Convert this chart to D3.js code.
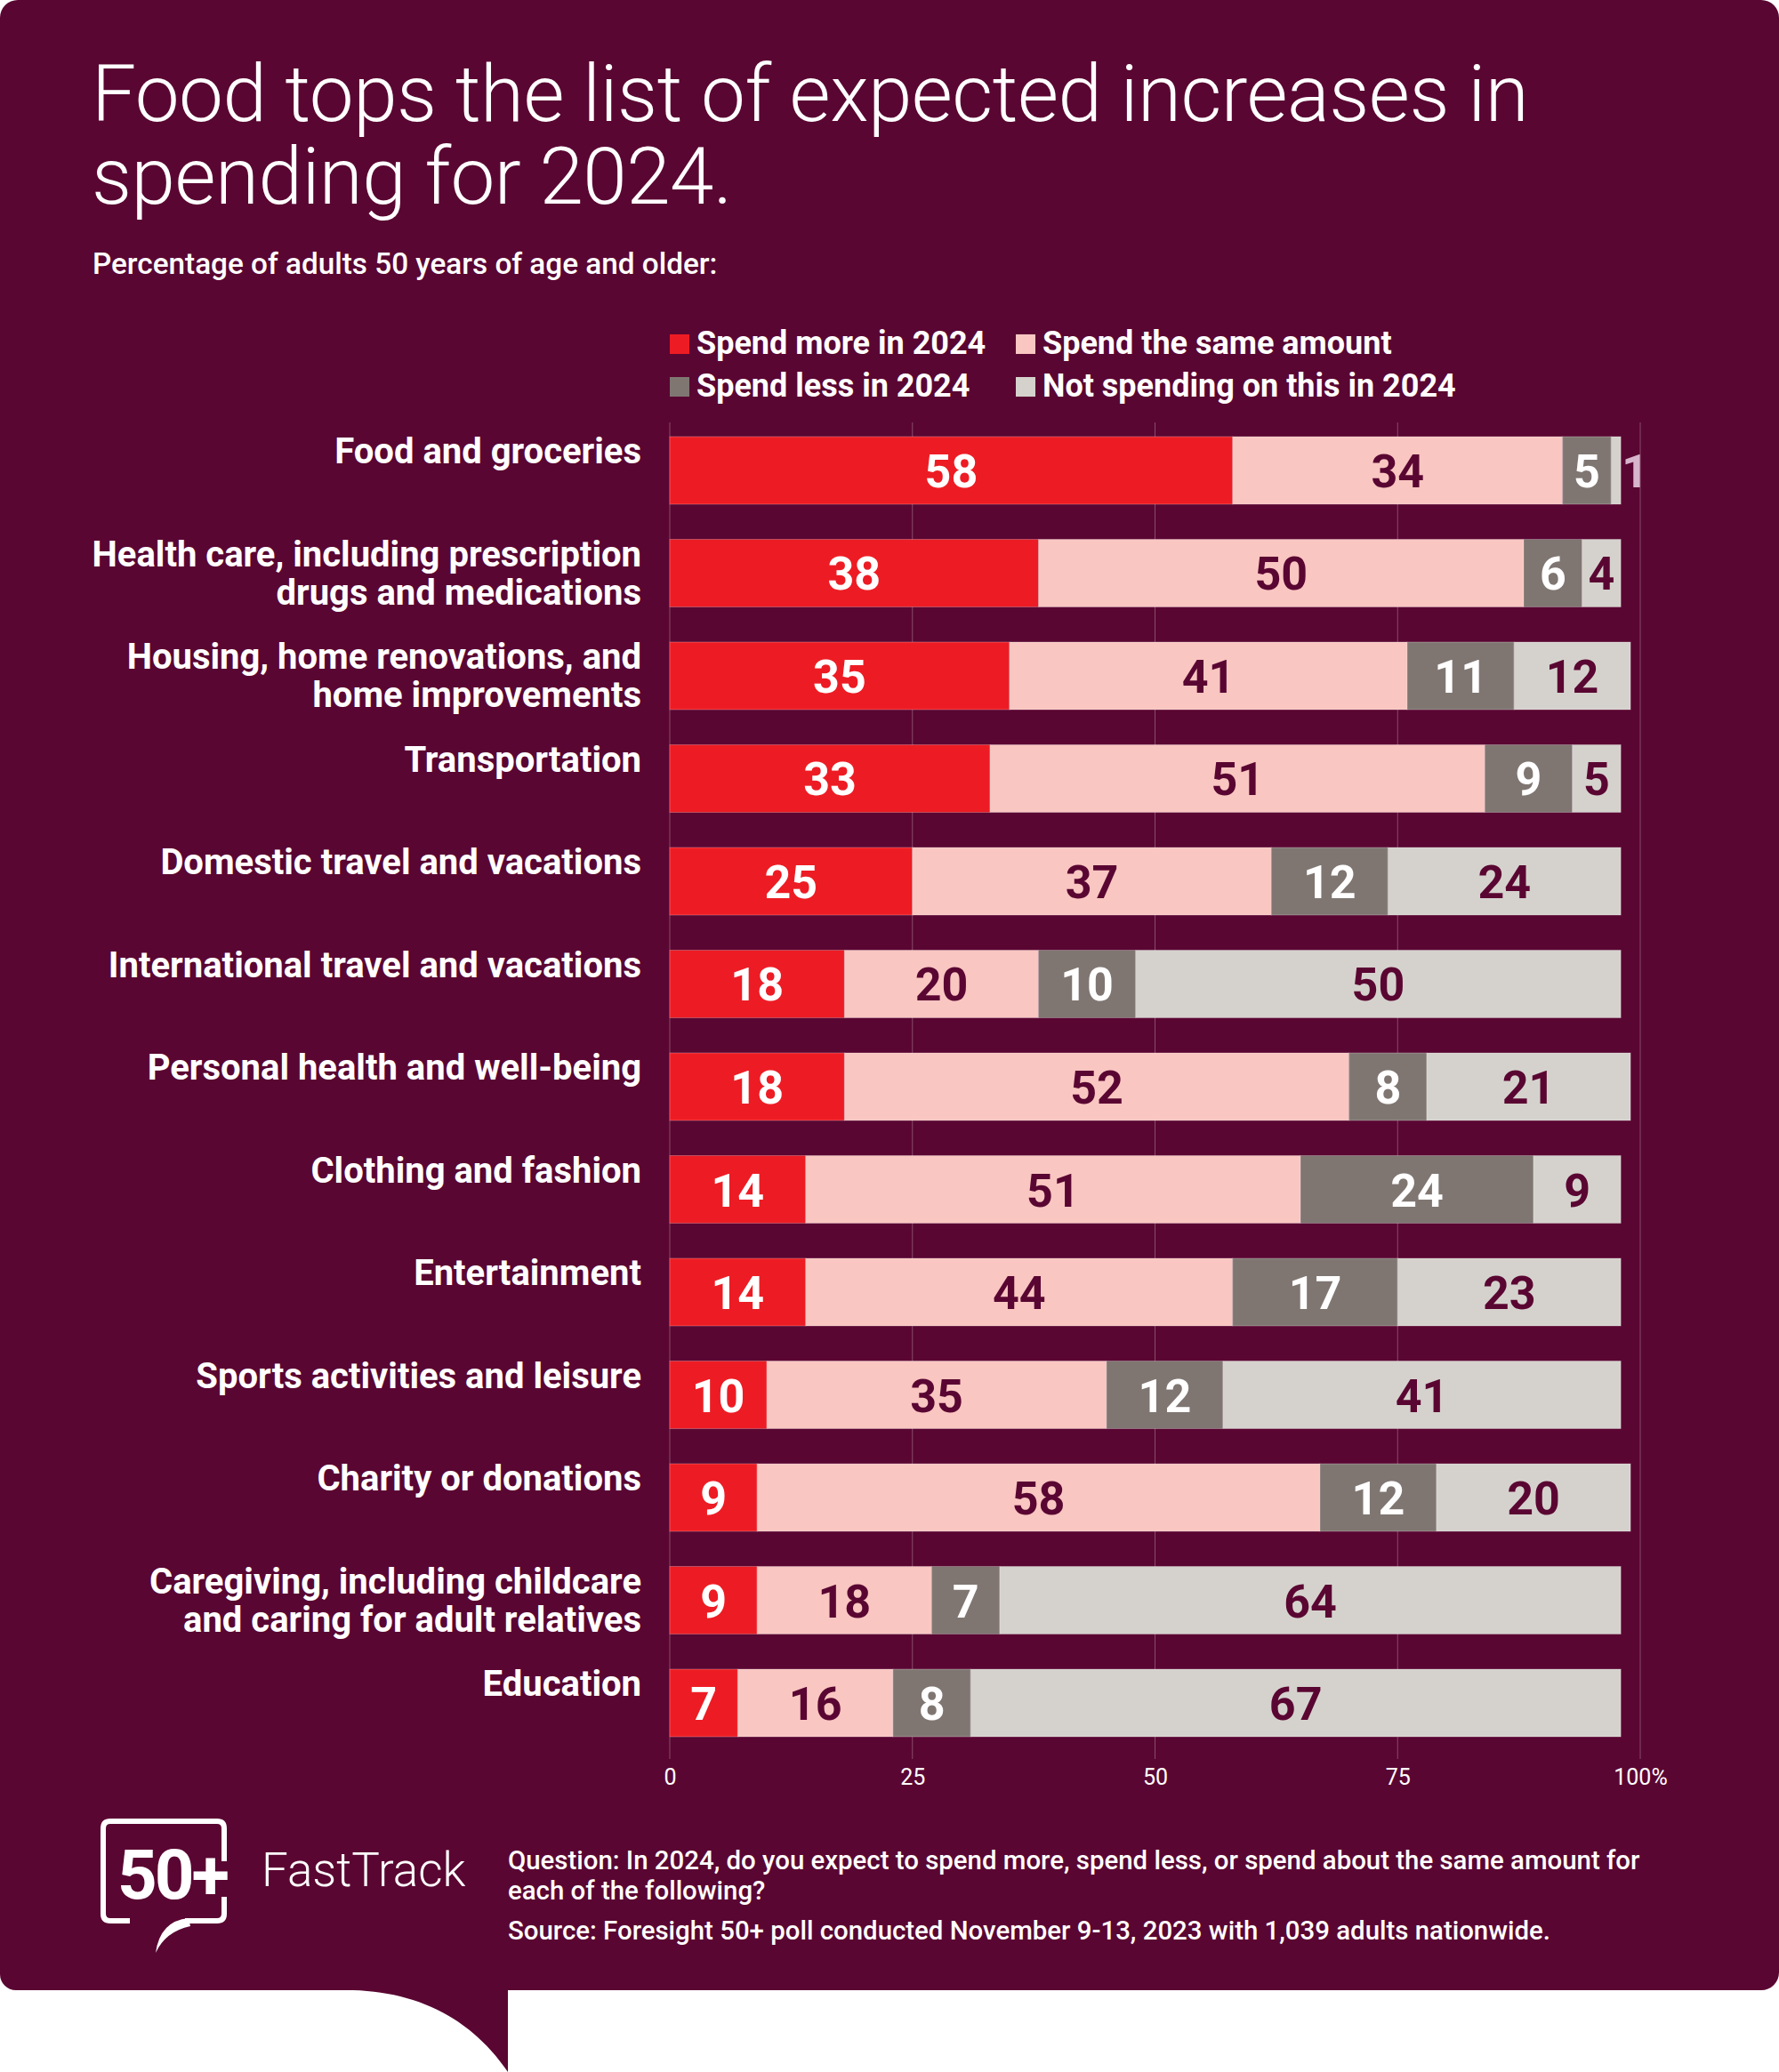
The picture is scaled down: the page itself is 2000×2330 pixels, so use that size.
<!DOCTYPE html>
<html><head><meta charset="utf-8">
<script src="https://cdn.jsdelivr.net/npm/d3@7"></script>
<style>
html,body{margin:0;padding:0;background:#fff;}
svg{display:block;font-family:Roboto,"Noto Sans",sans-serif;}
</style></head>
<body>
<svg id="chart" width="2000" height="2330"></svg>
<script>
const categories = [
  ["Food and groceries"],
  ["Health care, including prescription","drugs and medications"],
  ["Housing, home renovations, and","home improvements"],
  ["Transportation"],
  ["Domestic travel and vacations"],
  ["International travel and vacations"],
  ["Personal health and well-being"],
  ["Clothing and fashion"],
  ["Entertainment"],
  ["Sports activities and leisure"],
  ["Charity or donations"],
  ["Caregiving, including childcare","and caring for adult relatives"],
  ["Education"]
];
const spendMore = [58,38,35,33,25,18,18,14,14,10,9,9,7];
const spendSame = [34,50,41,51,37,20,52,51,44,35,58,18,16];
const spendLess = [5,6,11,9,12,10,8,24,17,12,12,7,8];
const notSpending = [1,4,12,5,24,50,21,9,23,41,20,64,67];
const seriesNames = ["Spend more in 2024","Spend the same amount","Spend less in 2024","Not spending on this in 2024"];
const seriesColors = ["#ed1c24","#f9c6c1","#7f7672","#d5d2cd"];
const labelColors = ["#ffffff","#5a0632","#ffffff","#5a0632"];
const tickValues = [0,25,50,75,100];
const tickLabels = ["0","25","50","75","100%"];

const BG = "#5a0632";
const svg = d3.select("#chart");

// panel
svg.append("path")
  .attr("d","M20,0 H1980 A20,20 0 0 1 2000,20 V2218 A20,20 0 0 1 1980,2238 H571 V2330 C530,2270 470,2240 397,2238 H18 A18,18 0 0 1 0,2220 V20 A20,20 0 0 1 20,0 Z")
  .attr("fill",BG);

// title
const title = svg.append("text").attr("x",103).attr("fill","#fff")
  .attr("font-size",89).attr("font-weight",300).attr("letter-spacing",-0.5);
title.append("tspan").attr("x",103).attr("y",136).text("Food tops the list of expected increases in");
title.append("tspan").attr("x",103).attr("y",229).text("spending for 2024.");

svg.append("text").attr("x",104).attr("y",308).attr("fill","#fff")
  .attr("font-size",33.3).attr("font-weight",500)
  .text("Percentage of adults 50 years of age and older:");

// legend
const legendPos = [[753,398],[1142,398],[753,446],[1142,446]];
const lg = svg.append("g");
seriesNames.forEach((n,i)=>{
  const [lx,ly] = legendPos[i];
  lg.append("rect").attr("x",lx).attr("y",ly-22).attr("width",22).attr("height",22).attr("fill",seriesColors[i]);
  lg.append("text").attr("x",lx+30).attr("y",ly).attr("fill","#fff")
    .attr("font-size",36).attr("font-weight",700).text(n);
});

// scales
const x = d3.scaleLinear().domain([0,100]).range([753,1844]);
const y = d3.scaleBand().domain(d3.range(categories.length)).range([491,1953]).paddingInner(0.342).paddingOuter(0);

// grid
svg.append("g").selectAll("line").data(tickValues).join("line")
  .attr("x1",d=>x(d)).attr("x2",d=>x(d)).attr("y1",475).attr("y2",1978)
  .attr("stroke","#ffffff").attr("stroke-opacity",0.28).attr("stroke-width",1);

// axis labels
const axis = d3.axisBottom(x).tickValues(tickValues).tickFormat((d,i)=>tickLabels[i]).tickSize(0).tickPadding(0);
const ag = svg.append("g").attr("transform","translate(0,1989)").call(axis);
ag.select(".domain").remove();
ag.selectAll("text").attr("fill","#fff").attr("font-size",25).attr("font-family","Roboto").attr("dy","0.72em");

// stacked data
const rows = categories.map((c,i)=>({i, vals:[spendMore[i],spendSame[i],spendLess[i],notSpending[i]]}));
const barsG = svg.append("g");
rows.forEach(r=>{
  let acc = 0;
  const by = y(r.i), bh = y.bandwidth();
  r.vals.forEach((v,k)=>{
    const x0 = x(acc), x1 = x(acc+v);
    barsG.append("rect").attr("x",x0).attr("y",by).attr("width",x1-x0).attr("height",bh)
      .attr("fill",seriesColors[k]).attr("stroke","#ffffff").attr("stroke-opacity",0.25).attr("stroke-width",1);
    const small = v < 3;
    barsG.append("text")
      .attr("x", small ? x1+16 : (x0+x1)/2)
      .attr("y", by+bh/2+19)
      .attr("text-anchor","middle")
      .attr("fill", small ? "#d7b5cd" : labelColors[k])
      .attr("font-size",52).attr("font-weight",700)
      .text(v);
    acc += v;
  });
  // category label
  const t = svg.append("text").attr("text-anchor","end").attr("fill","#fff")
    .attr("font-size",40).attr("font-weight",700);
  categories[r.i].forEach((line,j)=>{
    t.append("tspan").attr("x",721).attr("y",by+30+j*43).text(line);
  });
});

// logo
const logo = svg.append("g");
logo.append("path")
  .attr("d","M252,2093 V2056 Q252,2048 244,2048 H124 Q116,2048 116,2056 V2152 Q116,2160 124,2160 H146 M208,2160 H244 Q252,2160 252,2152 V2133")
  .attr("fill","none").attr("stroke","#fff").attr("stroke-width",6);
logo.append("path").attr("d","M212,2157 Q180,2160 175,2196 Q186,2172 214,2166 Z").attr("fill","#fff");
logo.append("text").attr("x",132).attr("y",2135).attr("fill","#fff").attr("font-size",78).attr("font-weight",700)
  .attr("letter-spacing",-3).text("50+");
logo.append("text").attr("x",294).attr("y",2121).attr("fill","#fff").attr("font-size",53).attr("font-weight",300).text("FastTrack");

// footer text
const ft = svg.append("g").attr("fill","#fff").attr("font-size",29.4).attr("font-weight",500);
ft.append("text").attr("x",571).attr("y",2102).text("Question: In 2024, do you expect to spend more, spend less, or spend about the same amount for");
ft.append("text").attr("x",571).attr("y",2136).text("each of the following?");
ft.append("text").attr("x",571).attr("y",2181).text("Source: Foresight 50+ poll conducted November 9-13, 2023 with 1,039 adults nationwide.");
</script>
</body></html>
